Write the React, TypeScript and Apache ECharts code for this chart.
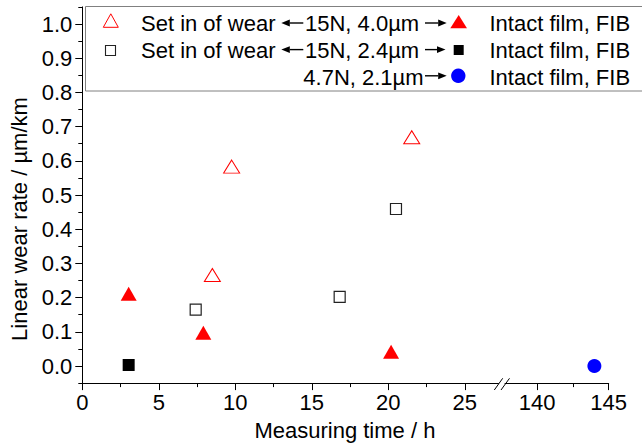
import React, { useEffect, useRef } from "react";
import * as echarts from "echarts";

// ---- data (x = measuring time / h, y = linear wear rate / µm/km) ----
const hollowTriangle15N40: number[][] = [
  [8.5, 0.266],
  [9.76, 0.583],
  [21.53, 0.669],
];
const solidTriangle15N40: number[][] = [
  [3.03, 0.211],
  [7.91, 0.097],
  [20.18, 0.042],
];
const hollowSquare15N24: number[][] = [
  [7.41, 0.165],
  [16.82, 0.202],
  [20.5, 0.459],
];
const solidSquare15N24: number[][] = [[3.03, 0.003]];
const solidCircle47N21: number[][] = [[144, 0.0]];

// ---- tick values ----
const yMajorTicks = [0, 0.1, 0.2, 0.3, 0.4, 0.5, 0.6, 0.7, 0.8, 0.9, 1.0];
const yMinorTicks = [-0.05, 0.05, 0.15, 0.25, 0.35, 0.45, 0.55, 0.65, 0.75, 0.85, 0.95, 1.05];
const xLeftMajor = [0, 5, 10, 15, 20, 25];
const xLeftMinor = [2.5, 7.5, 12.5, 17.5, 22.5];
const xRightMajor = [140, 145];
const xRightMinor = [142.5];

// ---- legend texts ----
const legendLeftLabel = "Set in of wear";
const legendMid1 = "15N, 4.0\u00b5m";
const legendMid2 = "15N, 2.4\u00b5m";
const legendMid3 = "4.7N, 2.1\u00b5m";
const legendRightLabel = "Intact film, FIB";

const FONT = "'Liberation Sans', Arial, sans-serif";

export default function App() {
  const ref = useRef<HTMLDivElement>(null);

  useEffect(() => {
    if (!ref.current) return;
    const chart = echarts.init(ref.current, undefined, { renderer: "svg" });

    const black = "#000";
    const tickLine = { color: black, width: 1 };
    const yMin = -0.05;
    const yMax = 1.05;

    const txt = (x: number, y: number, text: string, align = "left") => ({
      type: "text",
      x,
      y,
      style: {
        text,
        fontSize: 22,
        fontFamily: FONT,
        fill: black,
        align,
        verticalAlign: "middle",
      },
    });

    // arrow: line from tail to head base, filled triangular head at tip
    const arrow = (tail: number, tip: number, y: number) => {
      const dir = tip > tail ? 1 : -1;
      const base = tip - dir * 8.5;
      return [
        {
          type: "line",
          shape: { x1: tail, y1: y, x2: base, y2: y },
          style: { stroke: black, lineWidth: 1.4 },
        },
        {
          type: "polygon",
          shape: { points: [[tip, y], [base, y - 3.4], [base, y + 3.4]] },
          style: { fill: black },
        },
      ];
    };

    const option: any = {
      animation: false,
      textStyle: { fontFamily: FONT },
      grid: [
        { left: 82.3, top: 6.9, width: 416.2, height: 376.2, outerBoundsMode: "none" },
        { left: 505, top: 6.9, width: 103.7, height: 376.2, outerBoundsMode: "none" },
      ],
      xAxis: [
        {
          type: "value",
          gridIndex: 0,
          min: 0,
          max: 27.2,
          position: "bottom",
          axisLine: { show: true, onZero: false, lineStyle: tickLine },
          axisTick: { show: true, customValues: xLeftMajor, length: 7, lineStyle: tickLine },
          axisLabel: {
            show: true,
            customValues: xLeftMajor,
            fontSize: 22,
            color: black,
            margin: 8,
            fontFamily: FONT,
          },
          splitLine: { show: false },
          name: "Measuring time / h",
          nameLocation: "middle",
          nameGap: 36,
          nameMoveOverlap: false,
          nameTextStyle: {
            fontSize: 22,
            color: black,
            fontFamily: FONT,
            padding: [0, 0, 0, 109],
          },
        },
        {
          type: "value",
          gridIndex: 0,
          min: 0,
          max: 27.2,
          position: "bottom",
          axisLine: { show: false, onZero: false },
          axisTick: { show: true, customValues: xLeftMinor, length: 4, lineStyle: tickLine },
          axisLabel: { show: false },
          splitLine: { show: false },
        },
        {
          type: "value",
          gridIndex: 1,
          min: 137.76,
          max: 145,
          position: "bottom",
          axisLine: { show: true, onZero: false, lineStyle: tickLine },
          axisTick: { show: true, customValues: xRightMajor, length: 7, lineStyle: tickLine },
          axisLabel: {
            show: true,
            customValues: xRightMajor,
            fontSize: 22,
            color: black,
            margin: 8,
            fontFamily: FONT,
          },
          splitLine: { show: false },
        },
        {
          type: "value",
          gridIndex: 1,
          min: 137.76,
          max: 145,
          position: "bottom",
          axisLine: { show: false, onZero: false },
          axisTick: { show: true, customValues: xRightMinor, length: 4, lineStyle: tickLine },
          axisLabel: { show: false },
          splitLine: { show: false },
        },
      ],
      yAxis: [
        {
          type: "value",
          gridIndex: 0,
          min: yMin,
          max: yMax,
          position: "left",
          axisLine: { show: true, onZero: false, lineStyle: tickLine },
          axisTick: { show: true, customValues: yMajorTicks, length: 7, lineStyle: tickLine },
          axisLabel: {
            show: true,
            customValues: yMajorTicks,
            formatter: (v: number) => v.toFixed(1),
            fontSize: 22,
            color: black,
            margin: 10,
            fontFamily: FONT,
          },
          splitLine: { show: false },
          name: "Linear wear rate / \u00b5m/km",
          nameLocation: "middle",
          nameGap: 52,
          nameRotate: 90,
          nameMoveOverlap: false,
          nameTextStyle: {
            fontSize: 22,
            color: black,
            fontFamily: FONT,
            padding: [0, 48, 0, 0],
          },
        },
        {
          type: "value",
          gridIndex: 0,
          min: yMin,
          max: yMax,
          position: "left",
          axisLine: { show: false, onZero: false },
          axisTick: { show: true, customValues: yMinorTicks, length: 4, lineStyle: tickLine },
          axisLabel: { show: false },
          splitLine: { show: false },
        },
        {
          type: "value",
          gridIndex: 1,
          min: yMin,
          max: yMax,
          show: false,
          splitLine: { show: false },
        },
      ],
      series: [
        {
          type: "scatter",
          name: "Set in of wear 15N, 4.0µm",
          xAxisIndex: 0,
          yAxisIndex: 0,
          data: hollowTriangle15N40,
          symbol: "triangle",
          symbolSize: [16, 13],
          silent: true,
          itemStyle: { color: "#fff", borderColor: "#ff0000", borderWidth: 1, opacity: 1 },
          z: 5,
        },
        {
          type: "scatter",
          name: "Intact film, FIB 15N, 4.0µm",
          xAxisIndex: 0,
          yAxisIndex: 0,
          data: solidTriangle15N40,
          symbol: "triangle",
          symbolSize: [16, 14],
          silent: true,
          itemStyle: { color: "#ff0000", opacity: 1 },
          z: 5,
        },
        {
          type: "scatter",
          name: "Set in of wear 15N, 2.4µm",
          xAxisIndex: 0,
          yAxisIndex: 0,
          data: hollowSquare15N24,
          symbol: "rect",
          symbolSize: 11,
          silent: true,
          itemStyle: { color: "#fff", borderColor: "#222", borderWidth: 1.2, opacity: 1 },
          z: 5,
        },
        {
          type: "scatter",
          name: "Intact film, FIB 15N, 2.4µm",
          xAxisIndex: 0,
          yAxisIndex: 0,
          data: solidSquare15N24,
          symbol: "rect",
          symbolSize: 12,
          silent: true,
          itemStyle: { color: "#000", opacity: 1 },
          z: 5,
        },
        {
          type: "scatter",
          name: "Intact film, FIB 4.7N, 2.1µm",
          xAxisIndex: 2,
          yAxisIndex: 2,
          data: solidCircle47N21,
          symbol: "circle",
          symbolSize: 14,
          silent: true,
          itemStyle: { color: "#0000ff", opacity: 1 },
          z: 5,
        },
      ],
      graphic: [
        // axis break marks
        {
          type: "line",
          shape: { x1: 494.3, y1: 390, x2: 502.7, y2: 378.3 },
          style: { stroke: black, lineWidth: 1 },
          z: 20,
        },
        {
          type: "line",
          shape: { x1: 501, y1: 390, x2: 509.5, y2: 378.3 },
          style: { stroke: black, lineWidth: 1 },
          z: 20,
        },
        // legend box
        {
          type: "group",
          z: 50,
          children: [
            {
              type: "rect",
              shape: { x: 85.5, y: 6.5, width: 570, height: 84.5 },
              style: { fill: "#fff", stroke: "#808080", lineWidth: 1 },
            },
            {
              type: "polygon",
              shape: { points: [[103.3, 27.3], [110.8, 13.8], [118.3, 27.3]] },
              style: { fill: "#fff", stroke: "#ff0000", lineWidth: 1 },
            },
            {
              type: "rect",
              shape: { x: 105.5, y: 45.5, width: 10, height: 10 },
              style: { fill: "#fff", stroke: "#222", lineWidth: 1.1 },
            },
            txt(141, 23.8, legendLeftLabel),
            txt(141, 50.3, legendLeftLabel),
            ...arrow(303.3, 281.3, 23),
            ...arrow(303.3, 281.3, 49.6),
            txt(305, 23.8, legendMid1),
            txt(305, 50.3, legendMid2),
            txt(303.3, 77, legendMid3),
            ...arrow(425, 446.7, 23),
            ...arrow(425, 445.5, 49.6),
            ...arrow(425, 446.7, 75.8),
            {
              type: "polygon",
              shape: { points: [[450.3, 28.3], [458.7, 15], [467, 28.3]] },
              style: { fill: "#ff0000" },
            },
            {
              type: "rect",
              shape: { x: 453.7, y: 45, width: 10, height: 10 },
              style: { fill: "#000" },
            },
            {
              type: "circle",
              shape: { cx: 458.3, cy: 75.8, r: 7.2 },
              style: { fill: "#0000ff" },
            },
            txt(489.5, 23.8, legendRightLabel),
            txt(489.5, 50.3, legendRightLabel),
            txt(489.5, 77, legendRightLabel),
          ],
        },
      ],
    };

    chart.setOption(option);
    return () => chart.dispose();
  }, []);

  return (
    <div
      ref={ref}
      style={{ position: "fixed", left: 0, top: 0, width: 642, height: 444, background: "#fff" }}
    />
  );
}
